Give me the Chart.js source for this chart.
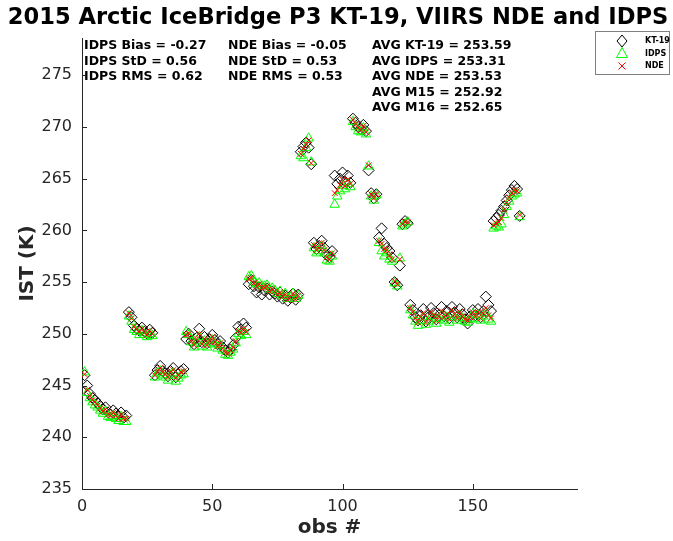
<!DOCTYPE html>
<html>
<head>
<meta charset="utf-8">
<title>2015 Arctic IceBridge P3 KT-19, VIIRS NDE and IDPS</title>
<script src="https://cdn.jsdelivr.net/npm/chart.js@4"></script>
<style>
  body { margin: 0; background: #fff; }
  #wrap { width: 673px; height: 541px; }
</style>
</head>
<body>
<div id="wrap"><canvas id="istChart" width="673" height="541"></canvas></div>
<script>
// KT-19 surface temperature per observation (K), obs # = index + 1
const kt19 = [
  246.0, 245.0, 244.2, 243.8, 243.6, 243.3, 243.0, 242.7, 242.9, 242.4, 242.2, 242.6, 242.3, 242.0, 242.4, 241.9, 242.1,
  252.1, 251.6, 250.8, 250.5, 250.3, 250.6, 250.2, 250.0, 250.4, 250.1,
  246.0, 246.5, 246.9, 246.4, 246.2, 245.9, 246.4, 246.7, 245.8, 246.1, 246.4, 246.6,
  249.5, 250.0, 249.3, 249.0, 249.6, 250.5, 249.2, 249.7, 249.1, 249.5, 249.9, 249.4, 249.0, 249.3, 248.7, 248.4, 248.2, 248.5, 248.9, 249.6, 250.7, 250.4, 251.0, 250.6,
  254.8, 255.2, 254.6, 254.0, 254.5, 253.8, 254.2, 254.4, 253.8, 254.1, 253.9, 253.6, 254.0, 253.4, 253.7, 253.2, 253.5, 253.9, 253.3, 253.8,
  267.6, 268.1, 268.5, 268.0, 266.4,
  258.8, 258.2, 258.5, 259.0, 258.3, 257.6, 257.4, 258.0,
  265.3, 264.5, 265.0, 265.6, 264.7, 265.3, 264.6,
  270.8, 270.4, 270.0, 269.8, 270.2, 269.6,
  265.8, 263.6, 263.1, 263.5,
  259.3, 260.2, 258.7, 258.3, 258.0, 257.4,
  255.0, 254.7, 256.6, 260.6, 260.9, 260.7,
  252.8, 252.3, 251.6, 251.3, 251.8, 252.4, 251.2, 251.6, 252.5, 252.0, 251.4, 251.8, 252.6, 251.7, 252.2, 251.5,
  252.6, 252.1, 251.6, 252.4, 251.9, 251.4, 251.0, 251.7, 252.3, 251.8, 252.4, 251.6, 252.2, 253.6, 252.8, 252.2,
  260.9, 261.2, 261.5, 261.9, 262.3, 262.9, 263.4, 263.9, 264.3, 264.0, 261.4
];

// VIIRS IDPS IST
const idps = [
  246.3, 244.3, 243.8, 243.4, 243.1, 242.9, 242.6, 242.3, 242.5, 242.0, 241.9, 242.1, 241.8, 241.6, 242.0, 241.5, 241.5,
  251.7, 251.2, 250.4, 250.2, 249.9, 250.3, 249.9, 249.7, 250.0, 249.8,
  245.8, 246.2, 246.4, 246.0, 245.8, 245.5, 246.0, 246.2, 245.4, 245.7, 246.0, 246.1,
  250.2, 249.9, 249.2, 248.7, 249.3, 249.7, 248.8, 249.3, 248.7, 249.1, 249.4, 249.0, 248.6, 248.9, 248.4, 248.0, 247.9, 248.2, 248.5, 249.1, 250.0, 249.8, 250.2, 249.9,
  255.5, 255.6, 255.0, 254.8, 254.9, 254.6, 254.6, 254.7, 254.3, 254.4, 254.2, 253.9, 254.1, 253.7, 253.9, 253.4, 253.6, 253.9, 253.4, 253.7,
  267.2, 267.0, 268.0, 268.9, 266.6,
  258.3, 257.8, 258.0, 258.5, 257.8, 257.1, 257.0, 257.5,
  262.5, 263.3, 263.8, 264.3, 264.0, 264.5, 264.2,
  270.5, 270.0, 269.6, 269.5, 269.9, 269.3,
  266.2, 263.3, 262.9, 263.4,
  258.8, 258.0, 257.5, 257.8, 257.2, 257.0,
  254.9, 254.6, 257.3, 260.4, 260.6, 260.8,
  252.3, 251.8, 251.2, 250.8, 251.3, 251.6, 250.9, 251.2, 251.7, 251.5, 251.0, 251.4, 251.8, 251.3, 251.6, 251.1,
  251.9, 251.6, 251.3, 251.8, 251.5, 251.2, 251.1, 251.4, 251.9, 251.5, 251.8, 251.3, 251.7, 252.0, 251.4, 251.2,
  260.2, 260.4, 260.3, 260.6, 261.5, 262.3, 262.8, 263.3, 263.5, 263.6, 261.3
];

// VIIRS NDE IST
const nde = [
  246.1, 244.6, 244.0, 243.6, 243.4, 243.1, 242.8, 242.5, 242.7, 242.2, 242.1, 242.4, 242.1, 241.8, 242.2, 241.8, 241.8,
  252.0, 251.5, 250.7, 250.4, 250.2, 250.5, 250.1, 249.9, 250.3, 250.0,
  246.0, 246.4, 246.7, 246.3, 246.1, 245.8, 246.3, 246.5, 245.7, 246.0, 246.3, 246.4,
  249.9, 250.0, 249.3, 248.9, 249.5, 250.0, 249.0, 249.5, 248.9, 249.3, 249.7, 249.2, 248.8, 249.1, 248.6, 248.2, 248.1, 248.4, 248.7, 249.3, 250.3, 250.1, 250.5, 250.2,
  255.3, 255.4, 254.9, 254.6, 254.8, 254.4, 254.5, 254.6, 254.1, 254.3, 254.1, 253.8, 254.0, 253.6, 253.8, 253.3, 253.5, 253.9, 253.3, 253.7,
  267.4, 267.9, 268.3, 268.7, 266.5,
  258.6, 258.1, 258.3, 258.8, 258.1, 257.4, 257.2, 257.8,
  263.6, 263.9, 264.4, 264.9, 264.3, 264.9, 264.5,
  270.7, 270.3, 269.9, 269.7, 270.1, 269.5,
  266.3, 263.5, 263.1, 263.5,
  259.0, 258.7, 258.2, 258.1, 257.6, 257.2,
  255.1, 254.8, 257.2, 260.6, 260.8, 260.8,
  252.5, 252.1, 251.5, 251.1, 251.6, 252.0, 251.1, 251.5, 252.1, 251.8, 251.3, 251.7, 252.2, 251.6, 251.9, 251.4,
  252.3, 251.9, 251.5, 252.1, 251.7, 251.4, 251.3, 251.6, 252.1, 251.7, 252.1, 251.5, 252.0, 252.5, 251.8, 251.5,
  260.5, 260.7, 260.8, 261.2, 262.0, 262.7, 263.2, 263.6, 263.9, 263.8, 261.5
];

const xTicks = [0, 50, 100, 150];
const yTicks = [235, 240, 245, 250, 255, 260, 265, 270, 275];

const statsLeft = ["IDPS Bias = -0.27", "IDPS StD = 0.56", "IDPS RMS = 0.62"];
const statsMid = ["NDE Bias = -0.05", "NDE StD = 0.53", "NDE RMS = 0.53"];
const statsRight = ["AVG KT-19 = 253.59", "AVG IDPS = 253.31", "AVG NDE = 253.53", "AVG M15 = 252.92", "AVG M16 = 252.65"];

const legendNames = ["KT-19", "IDPS", "NDE"];

function toPoints(arr) {
  return arr.map((v, i) => ({ x: i + 1, y: v }));
}

const axisColor = "#262626";
const fontName = '"DejaVu Sans", sans-serif';

function drawMarker(ctx, kind, x, y) {
  ctx.beginPath();
  if (kind === 0) {
    ctx.strokeStyle = "#000";
    ctx.moveTo(x, y - 6); ctx.lineTo(x + 5, y); ctx.lineTo(x, y + 6); ctx.lineTo(x - 5, y); ctx.closePath();
  } else if (kind === 1) {
    ctx.strokeStyle = "#00ff00";
    ctx.moveTo(x, y - 6); ctx.lineTo(x + 5.5, y + 4); ctx.lineTo(x - 5.5, y + 4); ctx.closePath();
  } else {
    ctx.strokeStyle = "#ff0000";
    ctx.moveTo(x - 3.5, y - 3.5); ctx.lineTo(x + 3.5, y + 3.5);
    ctx.moveTo(x + 3.5, y - 3.5); ctx.lineTo(x - 3.5, y + 3.5);
  }
  ctx.lineWidth = 1;
  ctx.stroke();
}

// titles, inward ticks, stats text and the boxed legend
const decorPlugin = {
  id: "decor",
  afterDraw(chart) {
    const ctx = chart.ctx;
    const area = chart.chartArea;
    const xs = chart.scales.x, ys = chart.scales.y;
    ctx.save();

    ctx.strokeStyle = axisColor;
    ctx.lineWidth = 1;
    ctx.beginPath();
    xTicks.forEach(v => {
      const px = Math.round(xs.getPixelForValue(v)) + 0.5;
      ctx.moveTo(px, area.bottom); ctx.lineTo(px, area.bottom - 5);
    });
    yTicks.forEach(v => {
      const py = Math.round(ys.getPixelForValue(v)) + 0.5;
      ctx.moveTo(area.left, py); ctx.lineTo(area.left + 5, py);
    });
    ctx.stroke();

    ctx.fillStyle = "#000";
    ctx.textAlign = "center";
    ctx.textBaseline = "middle";
    ctx.font = "bold 22.6px " + fontName;
    ctx.fillText("2015 Arctic IceBridge P3 KT-19, VIIRS NDE and IDPS", 338, 18);

    ctx.fillStyle = axisColor;
    ctx.font = "bold 20px " + fontName;
    ctx.fillText("obs #", (area.left + area.right) / 2, 528);
    ctx.save();
    ctx.translate(28, (area.top + area.bottom) / 2);
    ctx.rotate(-Math.PI / 2);
    ctx.fillText("IST (K)", 0, 0);
    ctx.restore();

    ctx.fillStyle = "#000";
    ctx.textAlign = "left";
    ctx.textBaseline = "alphabetic";
    ctx.font = "bold 12.5px " + fontName;
    const base = [49, 64.5, 80, 95.5, 111];
    statsLeft.forEach((t, i) => ctx.fillText(t, 84, base[i]));
    statsMid.forEach((t, i) => ctx.fillText(t, 228, base[i]));
    statsRight.forEach((t, i) => ctx.fillText(t, 372, base[i]));

    // legend box
    ctx.fillStyle = "#fff";
    ctx.fillRect(595.5, 31.5, 74, 43);
    ctx.strokeStyle = "#808080";
    ctx.strokeRect(595.5, 31.5, 74, 43);
    ctx.font = "bold 8px " + fontName;
    ctx.textBaseline = "middle";
    const rows = [41, 53.5, 66];
    legendNames.forEach((name, i) => {
      drawMarker(ctx, i, 622, rows[i]);
      ctx.fillStyle = "#000";
      ctx.fillText(name, 645, rows[i]);
    });

    ctx.restore();
  }
};

new Chart(document.getElementById("istChart"), {
  type: "scatter",
  data: {
    datasets: [
      {
        label: "KT-19",
        data: toPoints(kt19),
        pointStyle: "rectRot",
        pointRadius: 5.5,
        borderColor: "#000000",
        backgroundColor: "rgba(0,0,0,0)",
        borderWidth: 1,
        order: 3
      },
      {
        label: "IDPS",
        data: toPoints(idps),
        pointStyle: "triangle",
        pointRadius: 5.5,
        borderColor: "#00ff00",
        backgroundColor: "rgba(0,0,0,0)",
        borderWidth: 1,
        order: 2
      },
      {
        label: "NDE",
        data: toPoints(nde),
        pointStyle: "crossRot",
        pointRadius: 4,
        borderColor: "#ff0000",
        backgroundColor: "rgba(0,0,0,0)",
        borderWidth: 1,
        order: 1
      }
    ]
  },
  options: {
    responsive: false,
    animation: false,
    devicePixelRatio: 1,
    layout: { padding: { top: 38, right: 96, left: 0, bottom: 0 } },
    plugins: {
      legend: { display: false },
      title: { display: false },
      tooltip: { enabled: false }
    },
    scales: {
      x: {
        type: "linear",
        min: 0,
        max: 190,
        afterBuildTicks: s => { s.ticks = xTicks.map(v => ({ value: v })); },
        afterFit: s => { s.height = 52; },
        grid: { display: false, drawTicks: false },
        border: { display: true, color: axisColor, width: 1 },
        ticks: { padding: 8, color: axisColor, font: { family: fontName, size: 16 }, maxRotation: 0 }
      },
      y: {
        type: "linear",
        min: 235,
        max: 278.6,
        afterBuildTicks: s => { s.ticks = yTicks.map(v => ({ value: v })); },
        afterFit: s => { s.width = 82; },
        grid: { display: false, drawTicks: false },
        border: { display: true, color: axisColor, width: 1 },
        ticks: { padding: 10, color: axisColor, font: { family: fontName, size: 16 } }
      }
    }
  },
  plugins: [decorPlugin]
});
</script>
</body>
</html>
